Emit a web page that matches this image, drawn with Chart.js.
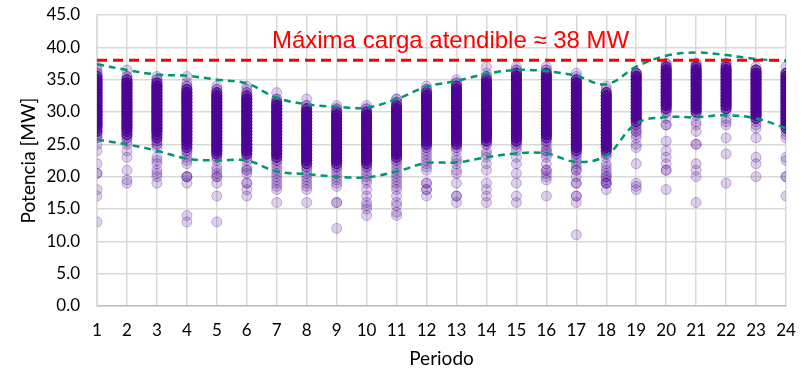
<!DOCTYPE html>
<html>
<head>
<meta charset="utf-8">
<script src="https://cdn.jsdelivr.net/npm/chart.js@4.4.1/dist/chart.umd.min.js"></script>
<style>
  html, body { margin: 0; padding: 0; background: #ffffff; }
  canvas { display: block; }
</style>
</head>
<body>
<canvas id="chart" width="809" height="373"></canvas>
<script>
// Periods of the day (x axis)
const periods = [1, 2, 3, 4, 5, 6, 7, 8, 9, 10, 11, 12, 13, 14, 15, 16, 17, 18, 19, 20, 21, 22, 23, 24];
// Y axis ticks [MW]
const yTicks = [0, 5, 10, 15, 20, 25, 30, 35, 40, 45];
// Maximum load that can be served [MW]
const maxServableLoad = 38;
// Upper and lower envelope of the load per period [MW]
const upperEnvelope = [37.4, 36.5, 35.8, 35.6, 35.0, 34.4, 32.2, 31.2, 30.8, 30.7, 32.0, 33.9, 34.8, 35.9, 36.5, 36.3, 35.6, 34.3, 37.0, 38.7, 39.2, 38.8, 38.2, 37.9];
const lowerEnvelope = [25.7, 25.0, 24.0, 22.8, 22.5, 22.5, 20.8, 20.4, 20.0, 19.9, 20.8, 22.1, 22.2, 23.0, 23.6, 23.6, 22.3, 23.3, 28.2, 29.2, 29.2, 29.5, 29.0, 27.5];

// Recorded loads per period: [MW, number of days with that load]
const p01 = [[37,1],[36.5,1],[36,2],[35.5,5],[35,8],[34.5,8],[34,8],[33.5,8],[33,8],[32.5,8],[32,8],[31.5,8],[31,8],[30.5,8],[30,8],[29.5,8],[29,8],[28.5,8],[28,8],[27.5,5],[27,5],[26.5,2],[26,2],[25,1],[24,1],[22,1],[20.5,2],[18,1],[17,1],[13,1]];
const p02 = [[36.5,1],[35.5,2],[35,5],[34.5,8],[34,8],[33.5,8],[33,8],[32.5,8],[32,8],[31.5,8],[31,8],[30.5,8],[30,8],[29.5,8],[29,8],[28.5,8],[28,8],[27.5,8],[27,5],[26.5,5],[26,2],[25.5,1],[25,1],[24,1],[23,1],[21,1],[19.5,1],[19,1]];
const p03 = [[35.5,1],[35,2],[34.5,5],[34,8],[33.5,8],[33,8],[32.5,8],[32,8],[31.5,8],[31,8],[30.5,8],[30,8],[29.5,8],[29,8],[28.5,8],[28,8],[27.5,8],[27,8],[26.5,5],[26,5],[25.5,2],[25,2],[24.5,1],[23,1],[22.5,1],[22,1],[21,1],[20.5,1],[20,1],[19,1]];
const p04 = [[35.5,1],[34.5,1],[34,2],[33.5,5],[33,8],[32.5,8],[32,8],[31.5,8],[31,8],[30.5,8],[30,8],[29.5,8],[29,8],[28.5,8],[28,8],[27.5,8],[27,8],[26.5,8],[26,8],[25.5,8],[25,5],[24.5,5],[24,2],[23.5,1],[23,1],[22.5,1],[22,1],[20,3],[19,1],[14,1],[13,1]];
const p05 = [[34,1],[33.5,2],[33,5],[32.5,8],[32,8],[31.5,8],[31,8],[30.5,8],[30,8],[29.5,8],[29,8],[28.5,8],[28,8],[27.5,8],[27,8],[26.5,8],[26,8],[25.5,8],[25,8],[24.5,8],[24,8],[23.5,5],[23,2],[22.5,1],[21.5,1],[21,1],[20.5,1],[20,2],[19,1],[17,1],[13,1]];
const p06 = [[34,1],[33.5,1],[33,2],[32.5,5],[32,8],[31.5,8],[31,8],[30.5,8],[30,8],[29.5,8],[29,8],[28.5,8],[28,8],[27.5,8],[27,8],[26.5,8],[26,8],[25.5,8],[25,8],[24.5,8],[24,8],[23.5,5],[23,2],[22.5,1],[21.5,1],[21,2],[20.5,1],[19,2],[18,1],[17,1]];
const p07 = [[33,1],[32,2],[31.5,5],[31,8],[30.5,8],[30,8],[29.5,8],[29,8],[28.5,8],[28,8],[27.5,8],[27,8],[26.5,8],[26,8],[25.5,8],[25,8],[24.5,8],[24,8],[23.5,8],[23,5],[22.5,2],[22,1],[21.5,1],[21,1],[20.5,1],[20,1],[19.5,1],[19,1],[18.5,1],[18,1],[16,1]];
const p08 = [[32,1],[31,2],[30.5,5],[30,8],[29.5,8],[29,8],[28.5,8],[28,8],[27.5,8],[27,8],[26.5,8],[26,8],[25.5,8],[25,8],[24.5,8],[24,8],[23.5,8],[23,8],[22.5,8],[22,5],[21.5,2],[21,1],[20.5,1],[20,1],[19.5,1],[19,1],[18.5,1],[18,1],[16,1]];
const p09 = [[31,1],[30.5,2],[30,5],[29.5,8],[29,8],[28.5,8],[28,8],[27.5,8],[27,8],[26.5,8],[26,8],[25.5,8],[25,8],[24.5,8],[24,8],[23.5,8],[23,8],[22.5,8],[22,5],[21.5,2],[21,1],[20.5,1],[20,1],[19.5,1],[19,1],[18.5,1],[16,2],[12,1]];
const p10 = [[31,1],[30.5,2],[30,5],[29.5,8],[29,8],[28.5,8],[28,8],[27.5,8],[27,8],[26.5,8],[26,8],[25.5,8],[25,8],[24.5,8],[24,8],[23.5,8],[23,8],[22.5,8],[22,5],[21.5,2],[21,1],[20.5,1],[20,1],[19.5,1],[19,1],[18,1],[17,1],[16,1],[15.5,1],[15,1],[14,1]];
const p11 = [[32,2],[31.5,2],[31,5],[30.5,8],[30,8],[29.5,8],[29,8],[28.5,8],[28,8],[27.5,8],[27,8],[26.5,8],[26,8],[25.5,8],[25,8],[24.5,8],[24,8],[23.5,8],[23,5],[22.5,2],[22,1],[21.5,1],[21,1],[20.5,1],[20,1],[19.5,1],[19,1],[18.5,1],[18,1],[17,1],[16,1],[15.5,1],[14.5,1],[14,1]];
const p12 = [[34,1],[33.5,2],[33,5],[32.5,8],[32,8],[31.5,8],[31,8],[30.5,8],[30,8],[29.5,8],[29,8],[28.5,8],[28,8],[27.5,8],[27,8],[26.5,8],[26,8],[25.5,8],[25,5],[24.5,2],[24,1],[23.5,1],[23,1],[22.5,1],[22,1],[21.5,1],[21,1],[19,2],[18,2],[17,1]];
const p13 = [[35,1],[34.5,2],[34,5],[33.5,8],[33,8],[32.5,8],[32,8],[31.5,8],[31,8],[30.5,8],[30,8],[29.5,8],[29,8],[28.5,8],[28,8],[27.5,8],[27,8],[26.5,8],[26,8],[25.5,8],[25,5],[24.5,2],[24,1],[23,1],[22.5,1],[22,1],[21,1],[20.5,1],[19,1],[17,2],[16,1]];
const p14 = [[37,1],[36,1],[35.5,2],[35,5],[34.5,8],[34,8],[33.5,8],[33,8],[32.5,8],[32,8],[31.5,8],[31,8],[30.5,8],[30,8],[29.5,8],[29,8],[28.5,8],[28,8],[27.5,8],[27,8],[26.5,8],[26,8],[25.5,5],[25,2],[24,1],[23.5,1],[23,1],[22,1],[21,1],[19,1],[18,1],[17,1],[16,1]];
const p15 = [[37,1],[36.5,2],[36,5],[35.5,8],[35,8],[34.5,8],[34,8],[33.5,8],[33,8],[32.5,8],[32,8],[31.5,8],[31,8],[30.5,8],[30,8],[29.5,8],[29,8],[28.5,8],[28,8],[27.5,8],[27,8],[26.5,8],[26,8],[25.5,5],[25,2],[24.5,1],[24,1],[23,1],[22,1],[20.5,1],[19,1],[17,1],[16,1]];
const p16 = [[37,1],[36.5,2],[36,5],[35.5,8],[35,8],[34.5,8],[34,8],[33.5,8],[33,8],[32.5,8],[32,8],[31.5,8],[31,8],[30.5,8],[30,8],[29.5,8],[29,8],[28.5,8],[28,8],[27.5,8],[27,8],[26.5,8],[26,5],[25.5,2],[25,1],[24.5,1],[24,2],[23.5,1],[23,1],[22,1],[21,2],[20.5,1],[20,1],[19.5,1],[17,1]];
const p17 = [[36,1],[35.5,1],[35,5],[34.5,8],[34,8],[33.5,8],[33,8],[32.5,8],[32,8],[31.5,8],[31,8],[30.5,8],[30,8],[29.5,8],[29,8],[28.5,8],[28,8],[27.5,8],[27,8],[26.5,8],[26,8],[25.5,8],[25,8],[24.5,8],[24,5],[23.5,2],[23,1],[22.5,1],[22,1],[21.5,1],[21,2],[20,1],[19,2],[17,2],[16,1],[11,1]];
const p18 = [[34,1],[33.5,1],[33,5],[32.5,8],[32,8],[31.5,8],[31,8],[30.5,8],[30,8],[29.5,8],[29,8],[28.5,8],[28,8],[27.5,8],[27,8],[26.5,8],[26,8],[25.5,8],[25,8],[24.5,8],[24,5],[23.5,2],[23,1],[22,1],[21.5,1],[21,1],[20.5,1],[20,2],[19.5,1],[19,3],[18,1]];
const p19 = [[36,5],[35.5,8],[35,8],[34.5,8],[34,8],[33.5,8],[33,8],[32.5,8],[32,8],[31.5,8],[31,8],[30.5,8],[30,8],[29.5,8],[29,8],[28.5,5],[28,2],[27.5,1],[27,2],[26.5,1],[26,1],[25,1],[24.5,1],[22,1],[19,1],[18.5,1],[18,1]];
const p20 = [[37.5,2],[37,5],[36.5,8],[36,8],[35.5,8],[35,8],[34.5,8],[34,8],[33.5,8],[33,8],[32.5,8],[32,8],[31.5,8],[31,8],[30.5,5],[30,2],[29,1],[28,2],[25.5,1],[24,1],[23,1],[22,1],[21,2],[18,1]];
const p21 = [[37.5,2],[37,5],[36.5,8],[36,8],[35.5,8],[35,8],[34.5,8],[34,8],[33.5,8],[33,8],[32.5,8],[32,8],[31.5,8],[31,8],[30.5,8],[30,5],[29.5,1],[28.5,1],[28,1],[27,1],[25,2],[22,1],[21,1],[20,1],[16,1]];
const p22 = [[37.5,2],[37,5],[36.5,8],[36,8],[35.5,8],[35,8],[34.5,8],[34,8],[33.5,8],[33,8],[32.5,8],[32,8],[31.5,8],[31,8],[30.5,5],[30,1],[29,1],[28.5,1],[28,1],[26,1],[23.5,1],[19,1]];
const p23 = [[37,1],[36.5,5],[36,8],[35.5,8],[35,8],[34.5,8],[34,8],[33.5,8],[33,8],[32.5,8],[32,8],[31.5,8],[31,8],[30.5,8],[30,8],[29.5,8],[29,5],[28.5,1],[28,1],[27.5,1],[26,1],[23,1],[22,1],[20,1]];
const p24 = [[37,1],[36,5],[35.5,8],[35,8],[34.5,8],[34,8],[33.5,8],[33,8],[32.5,8],[32,8],[31.5,8],[31,8],[30.5,8],[30,8],[29.5,8],[29,8],[28.5,8],[28,8],[27.5,5],[27,1],[26.5,1],[26,1],[23,1],[22.5,1],[20,2],[17,1]];

const loadsByPeriod = [p01, p02, p03, p04, p05, p06, p07, p08, p09, p10, p11, p12,
                       p13, p14, p15, p16, p17, p18, p19, p20, p21, p22, p23, p24];

// One translucent marker per recorded day
const loadPoints = [];
loadsByPeriod.forEach((records, i) => {
  records.forEach(([mw, days]) => {
    for (let d = 0; d < days; d++) loadPoints.push({ x: periods[i], y: mw });
  });
});

const envelopeUpper = periods.map((p, i) => ({ x: p, y: upperEnvelope[i] }));
const envelopeLower = periods.map((p, i) => ({ x: p, y: lowerEnvelope[i] }));
const limitLine = [{ x: periods[0], y: maxServableLoad }, { x: periods[periods.length - 1], y: maxServableLoad }];

const TICK_FONT = { family: 'Lato, "Open Sans", sans-serif', size: 17 };
const TITLE_FONT = { family: 'Lato, "Open Sans", sans-serif', size: 19 };
const GRID = '#d9d9d9';

// Red caption next to the limit line
const limitCaption = {
  id: 'limitCaption',
  afterDatasetsDraw(chart) {
    const { ctx, scales: { x, y } } = chart;
    ctx.save();
    ctx.fillStyle = '#ff0000';
    ctx.font = '24px "Liberation Sans", Arial, sans-serif';
    ctx.textAlign = 'left';
    ctx.textBaseline = 'alphabetic';
    ctx.fillText('Máxima carga atendible ≈ 38 MW', x.getPixelForValue(6.84), y.getPixelForValue(39.85));
    ctx.restore();
  }
};

new Chart(document.getElementById('chart'), {
  type: 'scatter',
  data: {
    datasets: [
      {
        type: 'line',
        data: limitLine,
        borderColor: '#ff0000',
        borderWidth: 3,
        borderDash: [10, 6],
        pointRadius: 0,
        fill: false
      },
      {
        type: 'line',
        data: envelopeUpper,
        borderColor: '#009670',
        borderWidth: 2.5,
        borderDash: [7, 5],
        pointRadius: 0,
        tension: 0.4,
        fill: false
      },
      {
        type: 'line',
        data: envelopeLower,
        borderColor: '#009670',
        borderWidth: 2.5,
        borderDash: [7, 5],
        pointRadius: 0,
        tension: 0.4,
        fill: false
      },
      {
        data: loadPoints,
        pointRadius: 5,
        borderWidth: 1,
        backgroundColor: 'rgba(75, 0, 150, 0.18)',
        borderColor: 'rgba(75, 0, 150, 0.28)'
      }
    ]
  },
  options: {
    responsive: false,
    animation: false,
    devicePixelRatio: 1,
    layout: { padding: { top: 15, right: 23, left: 0, bottom: 0 } },
    plugins: { legend: { display: false }, tooltip: { enabled: false } },
    scales: {
      x: {
        type: 'linear',
        min: periods[0],
        max: periods[periods.length - 1],
        afterBuildTicks(scale) { scale.ticks = periods.map(v => ({ value: v })); },
        afterFit(scale) { scale.height = 67; scale.paddingLeft = 0; scale.paddingRight = 0; },
        ticks: { color: '#000', font: TICK_FONT, padding: 14, maxRotation: 0, autoSkip: false },
        grid: { color: GRID, lineWidth: 1.5, drawTicks: false },
        border: { color: '#bfbfbf', width: 1.5 },
        title: { display: true, text: 'Periodo', color: '#000', font: TITLE_FONT, padding: { top: 0, bottom: 3 } }
      },
      y: {
        min: yTicks[0],
        max: yTicks[yTicks.length - 1],
        afterBuildTicks(scale) { scale.ticks = yTicks.map(v => ({ value: v })); },
        afterFit(scale) { scale.width = 97; scale.paddingTop = 0; scale.paddingBottom = 0; },
        ticks: { color: '#000', font: TICK_FONT, padding: 17, callback: v => v.toFixed(1) },
        grid: { color: GRID, lineWidth: 1.5, drawTicks: false },
        border: { color: GRID, width: 1.5 },
        title: { display: true, text: 'Potencia [MW]', color: '#000', font: TITLE_FONT, padding: { top: 17, bottom: 0 } }
      }
    }
  },
  plugins: [limitCaption]
});
</script>
</body>
</html>
